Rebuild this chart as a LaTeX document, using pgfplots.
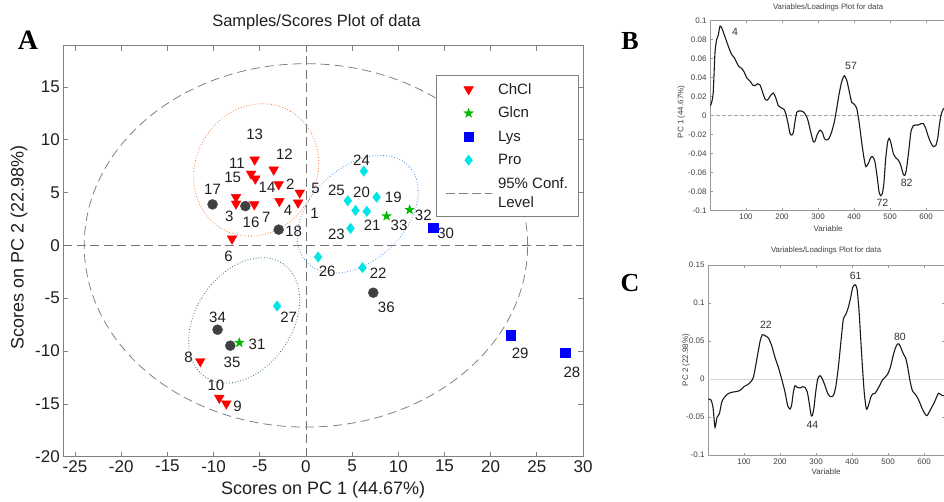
\documentclass[border=0pt]{standalone}
\usepackage{pgfplots}
\pgfplotsset{compat=1.18}
\usepackage{fontspec}
\setmainfont{Liberation Sans}
\newfontfamily\serifbf{Liberation Serif}
\usetikzlibrary{plotmarks}

\definecolor{chcl}{rgb}{1,0,0}
\definecolor{glcn}{rgb}{0,0.72,0}
\definecolor{lys}{rgb}{0,0,1}
\definecolor{pro}{rgb}{0,0.9,0.9}
\definecolor{unk}{rgb}{0.25,0.25,0.25}
\definecolor{ellorange}{rgb}{0.95,0.45,0.2}
\definecolor{ellblue}{rgb}{0.25,0.55,0.9}
\definecolor{ellgreen}{rgb}{0.2,0.45,0.25}
\definecolor{axgray}{rgb}{0.5,0.5,0.5}
\definecolor{txt}{rgb}{0.12,0.12,0.12}

\pgfdeclareplotmark{pentagram}{%
  \pgfpathmoveto{\pgfpointpolar{90}{\pgfplotmarksize}}%
  \pgfpathlineto{\pgfpointpolar{126}{0.4\pgfplotmarksize}}%
  \pgfpathlineto{\pgfpointpolar{162}{\pgfplotmarksize}}%
  \pgfpathlineto{\pgfpointpolar{198}{0.4\pgfplotmarksize}}%
  \pgfpathlineto{\pgfpointpolar{234}{\pgfplotmarksize}}%
  \pgfpathlineto{\pgfpointpolar{270}{0.4\pgfplotmarksize}}%
  \pgfpathlineto{\pgfpointpolar{306}{\pgfplotmarksize}}%
  \pgfpathlineto{\pgfpointpolar{342}{0.4\pgfplotmarksize}}%
  \pgfpathlineto{\pgfpointpolar{18}{\pgfplotmarksize}}%
  \pgfpathlineto{\pgfpointpolar{54}{0.4\pgfplotmarksize}}%
  \pgfpathclose
  \pgfusepathqfillstroke}

\pgfplotsset{
  mklegend/.style={legend image code/.code={\draw[mark repeat=2,mark phase=2,##1] plot coordinates {(0pt,0pt) (23pt,0pt) (46pt,0pt)};}},
}

\begin{document}
\begin{tikzpicture}[x=1pt,y=1pt]
\useasboundingbox (0,0) rectangle (944,-501);

% ---------------- Panel A ----------------
\begin{axis}[
  at={(63.3pt,-456.7pt)}, anchor=south west,
  scale only axis, width=519.7pt, height=411pt,
  xmin=-26.27, xmax=30, ymin=-20, ymax=18.9,
  xtick={-25,-20,-15,-10,-5,0,5,10,15,20,25,30},
  ytick={-20,-15,-10,-5,0,5,10,15},
  tick align=inside, major tick length=5pt,
  axis line style={axgray, line width=0.7pt},
  tick style={axgray, line width=0.7pt},
  tick label style={font=\fontsize{17}{20}\selectfont, text=txt},
  /pgf/number format/assume math mode=true,
  xlabel={Scores on PC 1 (44.67\%)},
  ylabel={Scores on PC 2 (22.98\%)},
  xlabel style={at={(axis description cs:0.5,-0.0803)}, anchor=center, font=\fontsize{18}{21}\selectfont, text=txt},
  ylabel style={at={(axis description cs:-0.0852,0.51)}, anchor=center, font=\fontsize{18}{21}\selectfont, text=txt},
  title={Samples/Scores Plot of data},
  title style={at={(axis description cs:0.487,1)}, anchor=center, yshift=17.7pt, font=\fontsize{16.5}{19}\selectfont, text=txt},
  legend style={at={(axis description cs:0.7172,0.9287)}, anchor=north west,
    draw=axgray, fill=white, inner xsep=9pt, inner ysep=7pt,
    font=\fontsize{15}{18.7}\selectfont, row sep=9.5pt, column sep=5pt,
    nodes={inner sep=1pt, text=txt}},
  legend cell align=left,
  mklegend,
  every axis plot post/.append style={mklegend},
]
% zero lines
\addplot[forget plot, black!55, line width=0.8pt, dash pattern=on 9pt off 4.5pt] coordinates {(-26.27,0) (30,0)};
\addplot[forget plot, black!55, line width=0.8pt, dash pattern=on 9pt off 4.5pt] coordinates {(0,-20) (0,18.9)};

% ellipses
\draw[black!50, line width=0.8pt, dash pattern=on 9pt off 5pt] (axis cs:0,0) ellipse [x radius=221.7pt, y radius=181.7pt];
\draw[ellorange, line width=0.8pt, dotted, rotate around={59.8:(axis cs:-5.39,7.14)}] (axis cs:-5.39,7.14) ellipse [x radius=68pt, y radius=60.5pt];
\draw[ellblue, line width=0.8pt, dotted, rotate around={43:(axis cs:5.61,2.95)}] (axis cs:5.61,2.95) ellipse [x radius=70.2pt, y radius=46.8pt];
\draw[ellgreen, line width=0.8pt, dotted, rotate around={55.3:(axis cs:-6.69,-7.10)}] (axis cs:-6.69,-7.10) ellipse [x radius=68.7pt, y radius=47.9pt];

% ChCl
\addplot[only marks, mark=triangle*, mark size=5.6pt, mark options={rotate=180, fill=chcl, draw=chcl}, mklegend] coordinates {
(-5.55,8.11) (-3.49,7.16) (-5.94,6.78) (-5.48,6.31) (-2.95,5.77) (-0.67,4.98)
(-7.57,4.57) (-7.57,3.94) (-5.59,3.88) (-2.87,4.19) (-0.85,4.04) (-8.00,0.63)
(-11.44,-10.97) (-9.38,-14.44) (-8.62,-14.98)};
\addlegendentry{ChCl}
% Glcn
\addplot[only marks, mark=pentagram, mark size=5pt, mark options={fill=glcn, draw=glcn, line width=0.3pt}, mklegend] coordinates {
(8.73,2.77) (11.23,3.37) (-7.21,-9.21)};
\addlegendentry{Glcn}
% Lys
\addplot[only marks, mark=square*, mark size=4.8pt, mark options={fill=lys, draw=lys}, mklegend] coordinates {
(13.75,1.67) (22.18,-8.51) (28.04,-10.15)};
\addlegendentry{Lys}
% Pro
\addplot[only marks, mark=diamond*, mark size=5.2pt, mark options={fill=pro, draw=pro}, mklegend] coordinates {
(4.53,4.23) (5.37,3.31) (6.59,3.22) (7.65,4.57) (4.83,1.61) (6.27,7.03)
(1.32,-1.10) (6.13,-2.11) (-3.12,-5.74)};
\addlegendentry{Pro}
% unlabelled samples
\addplot[forget plot, only marks, mark=*, mark size=5pt, mark options={fill=unk, draw=unk}] coordinates {
(-10.11,3.88) (-6.56,3.72) (-2.95,1.49) (7.29,-4.48) (-9.57,-7.98) (-8.19,-9.49)};

\addlegendimage{black!50, line width=0.8pt, dash pattern=on 9pt off 4pt, mklegend}
\addlegendentry[align=left]{95\% Conf.\\Level}

% sample labels
\begin{scope}[every node/.style={font=\fontsize{15}{17}\selectfont, text=txt, inner sep=0pt}]
\node at (axis cs:0.92,3.06) {1};
\node at (axis cs:-1.68,5.77) {2};
\node at (axis cs:-8.30,2.77) {3};
\node at (axis cs:-1.93,3.31) {4};
\node at (axis cs:1.03,5.36) {5};
\node at (axis cs:-8.37,-1.04) {6};
\node at (axis cs:-4.28,2.62) {7};
\node at (axis cs:-12.71,-10.56) {8};
\node at (axis cs:-7.40,-15.20) {9};
\node at (axis cs:-9.74,-13.25) {10};
\node at (axis cs:-7.46,7.73) {11};
\node at (axis cs:-2.33,8.61) {12};
\node at (axis cs:-5.55,10.47) {13};
\node at (axis cs:-4.21,5.52) {14};
\node at (axis cs:-7.94,6.40) {15};
\node at (axis cs:-5.94,2.20) {16};
\node at (axis cs:-10.11,5.27) {17};
\node at (axis cs:-1.32,1.32) {18};
\node at (axis cs:9.46,4.57) {19};
\node at (axis cs:6.02,4.98) {20};
\node at (axis cs:7.18,1.89) {21};
\node at (axis cs:7.83,-2.68) {22};
\node at (axis cs:3.31,1.01) {23};
\node at (axis cs:6.02,8.04) {24};
\node at (axis cs:3.31,5.20) {25};
\node at (axis cs:2.30,-2.43) {26};
\node at (axis cs:-1.87,-6.78) {27};
\node at (axis cs:28.80,-11.98) {28};
\node at (axis cs:23.19,-10.25) {29};
\node at (axis cs:15.13,1.10) {30};
\node at (axis cs:-5.29,-9.37) {31};
\node at (axis cs:12.71,2.84) {32};
\node at (axis cs:10.08,1.89) {33};
\node at (axis cs:-9.57,-6.84) {34};
\node at (axis cs:-8.00,-11.10) {35};
\node at (axis cs:8.70,-5.90) {36};
\end{scope}
\end{axis}

% ---------------- Panel B ----------------
\begin{axis}[
  at={(710pt,-210.7pt)}, anchor=south west,
  scale only axis, width=236.2pt, height=190pt,
  xmin=0, xmax=656, ymin=-0.1, ymax=0.1,
  xtick={100,200,300,400,500,600},
  ytick={-0.1,-0.08,-0.06,-0.04,-0.02,0,0.02,0.04,0.06,0.08,0.1},
  yticklabels={-0.1,-0.08,-0.06,-0.04,-0.02,0,0.02,0.04,0.06,0.08,0.1},
  tick align=inside, major tick length=2.5pt,
  axis line style={black!40, line width=0.5pt},
  tick style={black!40, line width=0.5pt},
  tick label style={font=\fontsize{8}{9}\selectfont, text=black!75},
  /pgf/number format/assume math mode=true,
  title={Variables/Loadings Plot for data},
  title style={at={(axis description cs:0.5,1)}, anchor=center, yshift=7.4pt, font=\fontsize{7.8}{9}\selectfont, text=black!75},
  xlabel={Variable},
  xlabel style={at={(axis description cs:0.5,-0.0926)}, anchor=center, font=\fontsize{8}{9}\selectfont, text=black!75},
  ylabel={PC 1 (44.67\%)},
  ylabel style={at={(axis description cs:-0.1215,0.52)}, anchor=center, font=\fontsize{8}{9}\selectfont, text=black!75},
]
\addplot[black!35, line width=0.6pt, dash pattern=on 4pt off 2pt] coordinates {(0,0) (656,0)};
\addplot[black!90, line width=1.1pt, smooth, tension=0.4] coordinates {
(1,0.0105) (4.6,0.014) (9,0.025) (13.9,0.067) (18.5,0.080) (23,0.085) (27.8,0.0944) (32.4,0.0926) (39.8,0.085) (46.3,0.078) (52.8,0.071) (60,0.0646) (67.6,0.061) (74,0.056) (80.6,0.0516) (88,0.0498) (94.4,0.0463) (101.9,0.040) (111,0.0365) (118.5,0.0323) (125,0.0316) (132.4,0.0337) (139,0.0323) (145,0.026) (152.8,0.0175) (160,0.0165) (167.6,0.021) (176,0.0239) (182.4,0.019) (189.8,0.0105) (197,0.0084) (205.6,0.0067) (211,0.0014) (217.6,-0.0098) (222,-0.0186) (226.9,-0.0204) (231.5,-0.0175) (236,-0.0063) (240.7,0.0035) (245,0.0049) (254.6,0.0049) (261,0.0035) (268.5,-0.0011) (273,-0.0063) (280.6,-0.0186) (287,-0.0274) (291.7,-0.0267) (298,-0.0196) (305.6,-0.0151) (312,-0.0175) (317.6,-0.0239) (324,-0.0256) (330.6,-0.0239) (338,-0.0168) (345.4,-0.0063) (351.9,0.0077) (358,0.0218) (365.7,0.0358) (373,0.0421) (379.6,0.0375) (386,0.027) (393.5,0.014) (401,0.0119) (407.4,0.0077) (413.9,-0.0063) (421,-0.0274) (427.8,-0.0449) (433,-0.0537) (439.8,-0.0502) (446.3,-0.0442) (451.8,-0.0432) (458,-0.0484) (464.8,-0.066) (469.4,-0.080) (474,-0.0842) (478.7,-0.0818) (483.3,-0.0695) (488,-0.0449) (493.5,-0.0274) (498,-0.0239) (502.8,-0.0291) (509,-0.0396) (515.7,-0.0442) (523,-0.0467) (529.6,-0.052) (537,-0.0618) (541.7,-0.0625) (546,-0.0554) (552.8,-0.0344) (558,-0.0168) (564.8,-0.0105) (571,-0.0098) (578.7,-0.0098) (586,-0.0084) (592.6,-0.0084) (599,-0.0133) (606.5,-0.0221) (613.9,-0.0291) (620.4,-0.0326) (626.9,-0.0316) (632.4,-0.0239) (637,-0.0098) (641.7,0.0007) (646.3,0.006) (650,0.0077) (656,0.012)};
\begin{scope}[every node/.style={font=\fontsize{10.5}{12}\selectfont, text=black!80, inner sep=0pt}]
\node at (axis cs:69.4,0.0884) {4};
\node at (axis cs:391.7,0.0526) {57};
\node at (axis cs:478.7,-0.0922) {72};
\node at (axis cs:546.3,-0.0712) {82};
\end{scope}
\end{axis}

% ---------------- Panel C ----------------
\begin{axis}[
  at={(708pt,-455pt)}, anchor=south west,
  scale only axis, width=236.2pt, height=190pt,
  xmin=0, xmax=656, ymin=-0.1, ymax=0.15,
  xtick={100,200,300,400,500,600},
  ytick={-0.1,-0.05,0,0.05,0.1,0.15},
  yticklabels={-0.1,-0.05,0,0.05,0.1,0.15},
  tick align=inside, major tick length=2.5pt,
  axis line style={black!40, line width=0.5pt},
  tick style={black!40, line width=0.5pt},
  tick label style={font=\fontsize{8}{9}\selectfont, text=black!75},
  /pgf/number format/assume math mode=true,
  title={Variables/Loadings Plot for data},
  title style={at={(axis description cs:0.5,1)}, anchor=center, yshift=8.3pt, font=\fontsize{7.8}{9}\selectfont, text=black!75},
  xlabel={Variable},
  xlabel style={at={(axis description cs:0.5,-0.088)}, anchor=center, font=\fontsize{8}{9}\selectfont, text=black!75},
  ylabel={PC 2 (22.98\%)},
  ylabel style={at={(axis description cs:-0.0931,0.5)}, anchor=center, font=\fontsize{8}{9}\selectfont, text=black!75},
]
\addplot[black!15, line width=0.5pt] coordinates {(0,0) (656,0)};
\addplot[black!90, line width=1.1pt, smooth, tension=0.4] coordinates {
(1,-0.0263) (8.3,-0.0276) (13.9,-0.0373) (19.4,-0.0636) (25,-0.0504) (31.5,-0.046) (38,-0.0307) (45.4,-0.0241) (54.6,-0.0197) (65.7,-0.0175) (76.9,-0.0167) (87,-0.0154) (93.5,-0.0132) (101,-0.0096) (110,-0.0075) (119.4,-0.0035) (126,0.0022) (132.4,0.0175) (139.8,0.0373) (145.4,0.0513) (151,0.0583) (158.3,0.057) (167.6,0.054) (176.9,0.0439) (186,0.0285) (195.4,0.0154) (204.6,0) (214,-0.0175) (221.3,-0.0351) (227.8,-0.0395) (232.4,-0.0338) (237,-0.0175) (241.7,-0.0088) (248,-0.011) (255.6,-0.0118) (263,-0.0101) (269.4,-0.011) (276,-0.0175) (281.5,-0.0329) (286,-0.0469) (289.8,-0.0482) (294.4,-0.0373) (299,-0.0175) (304.6,0) (311,0.0044) (317.6,0) (325,-0.0088) (332.4,-0.0189) (339.8,-0.0232) (348,-0.0219) (354.6,-0.011) (362,0.0154) (369.4,0.0504) (376,0.079) (382.4,0.0846) (389.8,0.0943) (396.3,0.1075) (401.9,0.1206) (408.3,0.1241) (413.9,0.1184) (419.4,0.0899) (425,0.046) (429.6,0.011) (434.3,-0.0197) (439.8,-0.0395) (445.4,-0.0351) (451.9,-0.0241) (457.4,-0.0197) (463.9,-0.0189) (471.3,-0.0132) (477.8,-0.0075) (484.3,-0.0013) (491.7,0.0022) (499,0.0066) (506.5,0.0154) (513,0.0285) (519.4,0.0395) (525.9,0.046) (530.6,0.046) (536,0.0408) (542.6,0.0329) (549,0.0276) (554.6,0.0154) (561,-0.0022) (567.6,-0.0154) (575,-0.0197) (582.4,-0.025) (588.9,-0.032) (595.4,-0.0395) (602.8,-0.0461) (608.3,-0.0482) (613.9,-0.0439) (621.3,-0.0373) (628.7,-0.0307) (635.2,-0.0232) (639.8,-0.0189) (644.4,-0.0197) (650.9,-0.0219) (656,-0.0219)};
\begin{scope}[every node/.style={font=\fontsize{10.5}{12}\selectfont, text=black!80, inner sep=0pt}]
\node at (axis cs:161,0.0714) {22};
\node at (axis cs:289.8,-0.0601) {44};
\node at (axis cs:410,0.136) {61};
\node at (axis cs:533,0.0548) {80};
\end{scope}
\end{axis}

% panel letters
\node[font=\serifbf\bfseries\fontsize{28}{30}\selectfont] at (28pt,-40.5pt) {A};
\node[font=\serifbf\bfseries\fontsize{26}{28}\selectfont] at (630pt,-41.5pt) {B};
\node[font=\serifbf\bfseries\fontsize{26}{28}\selectfont] at (630pt,-283pt) {C};
\end{tikzpicture}
\end{document}
